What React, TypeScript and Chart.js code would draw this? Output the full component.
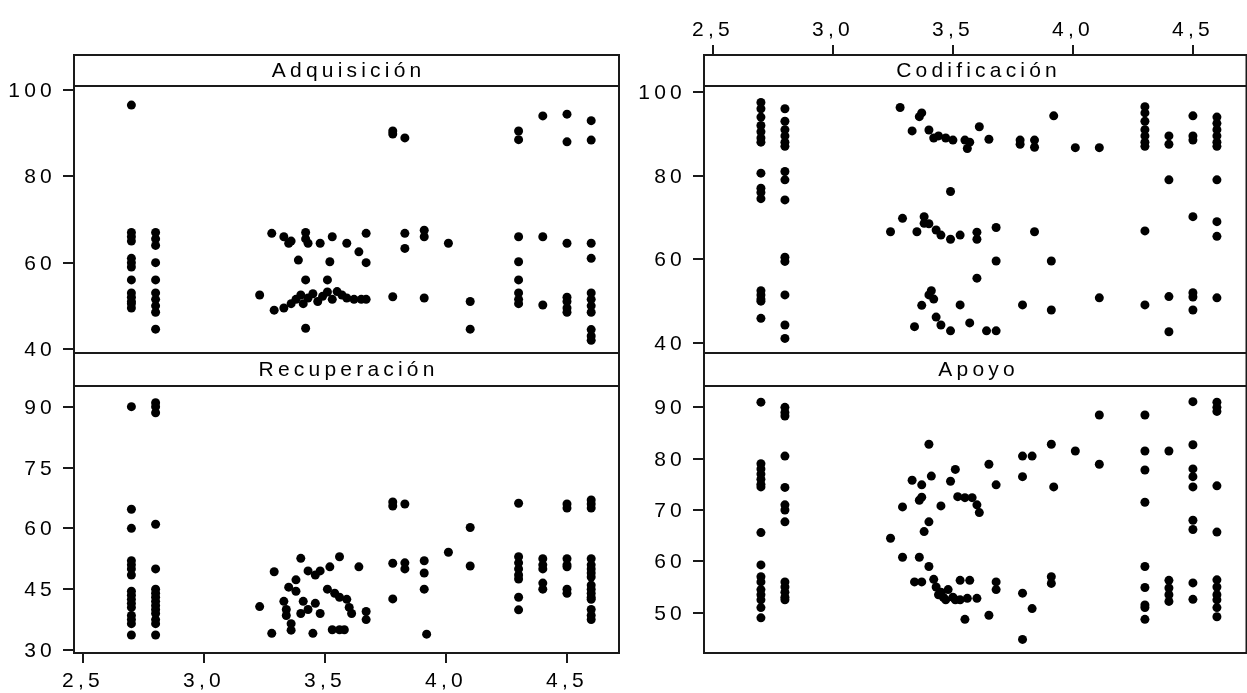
import React, { useEffect, useRef } from "react";
import { Chart, registerables } from "chart.js";

Chart.register(...registerables);

const W = 1247;
const H = 693;
const FONT_FAMILY = '"Liberation Sans", Arial, Helvetica, sans-serif';
const FONT_SIZE = 21;
const LETTER_SPACING = 4.2;
const INK = "#000000";
const LINE = "#1a1a1a";

// x axis (shared)
const xTickValues = [2.5, 3.0, 3.5, 4.0, 4.5];
const xTickLabels = ["2,5", "3,0", "3,5", "4,0", "4,5"];

// y tick values per panel
const adquisicionTicks = [40, 60, 80, 100];
const codificacionTicks = [40, 60, 80, 100];
const recuperacionTicks = [30, 45, 60, 75, 90];
const apoyoTicks = [50, 60, 70, 80, 90];

// data: [x, y]
const adquisicion: [number, number][] = [
  [2.7, 96.5], [2.7, 67], [2.7, 66], [2.7, 65], [2.7, 61], [2.7, 60], [2.7, 59], [2.7, 56], [2.7, 53], [2.7, 52], [2.7, 51], [2.7, 50.5], [2.7, 49.5],
  [2.8, 67], [2.8, 65.5], [2.8, 64], [2.8, 60], [2.8, 56], [2.8, 53], [2.8, 51.5], [2.8, 50], [2.8, 48.5], [2.8, 44.6],
  [3.28, 66.8], [3.33, 66], [3.36, 65], [3.35, 64.5], [3.42, 67], [3.42, 65.5], [3.43, 64.5], [3.48, 64.5], [3.53, 66], [3.59, 64.5],
  [3.67, 66.8], [3.64, 62.5], [3.67, 60], [3.39, 60.6], [3.52, 60.2], [3.42, 56], [3.51, 56],
  [3.23, 52.5], [3.29, 49], [3.33, 49.5], [3.36, 50.5], [3.38, 51.5], [3.40, 52.5], [3.41, 50.5], [3.43, 51.8], [3.45, 52.8], [3.47, 51],
  [3.49, 52.2], [3.51, 53.2], [3.53, 51.5], [3.55, 53.3], [3.57, 52.5], [3.59, 51.8], [3.62, 51.5], [3.65, 51.5], [3.67, 51.5], [3.42, 44.8],
  [3.78, 90.5], [3.78, 89.8], [3.83, 88.9], [3.83, 66.8], [3.83, 63.3], [3.91, 67.5], [3.91, 66], [4.01, 64.5], [3.78, 52.1], [3.91, 51.8],
  [4.1, 51], [4.1, 44.6],
  [4.3, 90.5], [4.3, 88.5], [4.3, 66], [4.3, 60.2], [4.3, 56], [4.3, 53], [4.3, 51.5], [4.3, 50.5],
  [4.4, 94], [4.4, 66], [4.4, 50.2],
  [4.5, 94.4], [4.5, 88], [4.5, 64.5], [4.5, 52], [4.5, 51], [4.5, 49.5], [4.5, 48.5],
  [4.6, 92.9], [4.6, 88.4], [4.6, 64.5], [4.6, 61], [4.6, 53], [4.6, 51.5], [4.6, 50], [4.6, 48.5], [4.6, 44.5], [4.6, 43], [4.6, 42],
];

const codificacion: [number, number][] = [
  [2.7, 97.5], [2.7, 96], [2.7, 94], [2.7, 92], [2.7, 90.5], [2.7, 89], [2.7, 88], [2.7, 80.6], [2.7, 77], [2.7, 76], [2.7, 74.5],
  [2.7, 52.5], [2.7, 51.5], [2.7, 50.5], [2.7, 50], [2.7, 45.9],
  [2.8, 96], [2.8, 93], [2.8, 91], [2.8, 89.5], [2.8, 88], [2.8, 87], [2.8, 81], [2.8, 79], [2.8, 74.2], [2.8, 60.5], [2.8, 59.5],
  [2.8, 51.5], [2.8, 44.3], [2.8, 41.1],
  [3.28, 96.3], [3.36, 94.1], [3.37, 95], [3.33, 90.7], [3.40, 90.9], [3.42, 89], [3.44, 89.5], [3.47, 89], [3.50, 88.5], [3.55, 88.5],
  [3.56, 86.5], [3.57, 88], [3.61, 91.7], [3.65, 88.7], [3.78, 88.5], [3.78, 87.5], [3.84, 88.5], [3.84, 86.8], [3.92, 94.3],
  [4.01, 86.7], [4.11, 86.7],
  [3.24, 66.6], [3.29, 69.8], [3.35, 66.6], [3.38, 70.2], [3.38, 68.6], [3.40, 68.5], [3.43, 67], [3.45, 65.8], [3.49, 64.8], [3.53, 65.8],
  [3.60, 66.5], [3.60, 64.8], [3.68, 67.6], [3.49, 76.2], [3.84, 66.6], [3.68, 59.6], [3.91, 59.6], [3.60, 55.5],
  [3.34, 43.9], [3.37, 49], [3.40, 51.5], [3.41, 52.5], [3.42, 50.5], [3.43, 46.2], [3.45, 44.3], [3.49, 42.9], [3.53, 49.1], [3.57, 44.8],
  [3.64, 42.9], [3.68, 42.9], [3.79, 49.1], [3.91, 47.9], [4.11, 50.8],
  [4.3, 96.5], [4.3, 95], [4.3, 93], [4.3, 91], [4.3, 89.5], [4.3, 88], [4.3, 87], [4.3, 66.8], [4.3, 49.1],
  [4.4, 89.5], [4.4, 87.5], [4.4, 79], [4.4, 51.1], [4.4, 42.7],
  [4.5, 94.3], [4.5, 89.5], [4.5, 88.5], [4.5, 70.2], [4.5, 52], [4.5, 51], [4.5, 47.9],
  [4.6, 94], [4.6, 92.5], [4.6, 91], [4.6, 89.5], [4.6, 88], [4.6, 87], [4.6, 79], [4.6, 69], [4.6, 65.5], [4.6, 50.8],
];

const recuperacion: [number, number][] = [
  [2.7, 90], [2.7, 64.7], [2.7, 60], [2.7, 52], [2.7, 51], [2.7, 50], [2.7, 48.5], [2.7, 44.5], [2.7, 43.5], [2.7, 42.5], [2.7, 41.5],
  [2.7, 40.5], [2.7, 38.5], [2.7, 37.5], [2.7, 36.5], [2.7, 33.7],
  [2.8, 91], [2.8, 90], [2.8, 88.5], [2.8, 61], [2.8, 50], [2.8, 45], [2.8, 44], [2.8, 43], [2.8, 42], [2.8, 41], [2.8, 40], [2.8, 39],
  [2.8, 37.5], [2.8, 36.5], [2.8, 33.7],
  [3.23, 40.7], [3.29, 49.3], [3.28, 34.1], [3.36, 34.9], [3.45, 34.1], [3.53, 35], [3.56, 35], [3.58, 35], [3.40, 52.6], [3.43, 49.5],
  [3.46, 48.5], [3.48, 49.5], [3.52, 50.5], [3.56, 53], [3.64, 50.5], [3.35, 45.5], [3.38, 44.5], [3.33, 42], [3.34, 40], [3.34, 38.5],
  [3.41, 42], [3.43, 40], [3.40, 39], [3.48, 39], [3.51, 45], [3.54, 44], [3.56, 43], [3.46, 41.5], [3.59, 42.5], [3.60, 40.5],
  [3.61, 39], [3.67, 39.5], [3.67, 37.5], [3.38, 47.3], [3.36, 36.5],
  [3.78, 66.5], [3.78, 65.5], [3.83, 66], [3.78, 51.4], [3.83, 51.5], [3.83, 50], [3.78, 42.6], [3.91, 52], [3.91, 49], [3.91, 45],
  [3.92, 33.9], [4.01, 54.1], [4.1, 60.2], [4.1, 50.7],
  [4.3, 66.2], [4.3, 53], [4.3, 51.5], [4.3, 50], [4.3, 48.5], [4.3, 47.5], [4.3, 43], [4.3, 39.9],
  [4.4, 52.5], [4.4, 51], [4.4, 50], [4.4, 46.5], [4.4, 45],
  [4.5, 66], [4.5, 65], [4.5, 52.5], [4.5, 51], [4.5, 50.5], [4.5, 45], [4.5, 44],
  [4.6, 67], [4.6, 66], [4.6, 65], [4.6, 52.5], [4.6, 51], [4.6, 50], [4.6, 49], [4.6, 48], [4.6, 46], [4.6, 45], [4.6, 44], [4.6, 43],
  [4.6, 42.5], [4.6, 40], [4.6, 38.5], [4.6, 37.5],
];

const apoyo: [number, number][] = [
  [2.7, 91], [2.7, 79], [2.7, 78], [2.7, 77], [2.7, 76], [2.7, 75], [2.7, 74.5], [2.7, 65.6], [2.7, 59.3], [2.7, 57], [2.7, 56],
  [2.7, 54.5], [2.7, 53.5], [2.7, 52.5], [2.7, 51], [2.7, 49],
  [2.8, 90], [2.8, 89], [2.8, 88.3], [2.8, 80.5], [2.8, 74.4], [2.8, 71], [2.8, 70], [2.8, 67.7], [2.8, 56], [2.8, 55], [2.8, 54],
  [2.8, 53], [2.8, 52.5],
  [3.24, 64.5], [3.29, 70.6], [3.29, 60.8], [3.36, 60.8], [3.40, 82.8], [3.33, 75.8], [3.37, 74.9], [3.36, 71.9], [3.37, 72.5],
  [3.41, 76.6], [3.45, 70.8], [3.40, 67.7], [3.38, 65.8], [3.51, 77.9], [3.49, 75.6], [3.52, 72.6], [3.55, 72.4], [3.58, 72.4],
  [3.60, 71], [3.61, 69.5], [3.65, 78.9], [3.68, 74.9], [3.79, 80.5], [3.83, 80.5], [3.79, 76.5], [3.91, 82.8], [3.92, 74.5],
  [4.01, 81.5], [4.11, 88.5], [4.11, 78.9],
  [3.34, 56], [3.37, 56], [3.40, 59], [3.42, 56.5], [3.43, 55], [3.44, 53.5], [3.45, 54], [3.46, 53], [3.47, 52.5], [3.48, 54.5],
  [3.50, 53], [3.51, 52.5], [3.53, 52.5], [3.53, 56.3], [3.57, 56.3], [3.56, 52.8], [3.60, 52.8], [3.55, 48.7], [3.65, 49.5],
  [3.68, 56], [3.68, 54.5], [3.79, 53.8], [3.83, 50.8], [3.79, 44.8], [3.91, 57], [3.91, 55.7],
  [4.3, 88.5], [4.3, 81.5], [4.3, 77.8], [4.3, 71.5], [4.3, 59], [4.3, 54.9], [4.3, 51.5], [4.3, 51], [4.3, 48.7],
  [4.4, 81.5], [4.4, 56.3], [4.4, 54.8], [4.4, 53.5], [4.4, 52.2],
  [4.5, 91.1], [4.5, 82.7], [4.5, 78], [4.5, 76.5], [4.5, 74.5], [4.5, 68], [4.5, 66.2], [4.5, 55.8], [4.5, 52.6],
  [4.6, 91], [4.6, 90], [4.6, 89.2], [4.6, 74.7], [4.6, 65.7], [4.6, 56.4], [4.6, 55], [4.6, 53.5], [4.6, 52.5], [4.6, 51], [4.6, 49.2],
];

type Panel = {
  title: string;
  data: [number, number][];
  yMin: number;
  yMax: number;
  yTicks: number[];
  col: 0 | 1;
  row: 0 | 1;
  xAxis: "none" | "top" | "bottom";
};

const panels: Panel[] = [
  { title: "Adquisición", data: adquisicion, yMin: 39.07, yMax: 100.93, yTicks: adquisicionTicks, col: 0, row: 0, xAxis: "none" },
  { title: "Codificación", data: codificacion, yMin: 37.61, yMax: 101.43, yTicks: codificacionTicks, col: 1, row: 0, xAxis: "top" },
  { title: "Recuperación", data: recuperacion, yMin: 29.26, yMax: 95.1, yTicks: recuperacionTicks, col: 0, row: 1, xAxis: "bottom" },
  { title: "Apoyo", data: apoyo, yMin: 42.15, yMax: 94.15, yTicks: apoyoTicks, col: 1, row: 1, xAxis: "none" },
];

// layout (pixels)
const COL_LEFT = [74, 704];
const COL_RIGHT = [619, 1247];
const PANEL_W = 545;
const ROW_TOP = [86, 386];
const ROW_BOTTOM = [353, 653];
const STRIP_TOP = [55, 353];
const X_MIN = 2.4628;
const X_MAX = [4.7149, 4.7066];
const TICK_LEN = 10;

function makePlugin(p: Panel) {
  return {
    id: "lattice_" + p.col + "_" + p.row,
    afterDatasetsDraw(chart: any) {
      const ctx: CanvasRenderingContext2D = chart.ctx;
      const a = chart.chartArea;
      const xs = chart.scales.x;
      const ys = chart.scales.y;
      const openRight = p.col === 1;
      const right = openRight ? a.right + 4 : a.right;
      const stripTop = STRIP_TOP[p.row];
      ctx.save();
      ctx.strokeStyle = LINE;
      ctx.lineWidth = 2;
      ctx.beginPath();
      ctx.rect(a.left, stripTop, right - a.left, a.bottom - stripTop);
      ctx.moveTo(a.left, a.top);
      ctx.lineTo(right, a.top);
      ctx.stroke();

      ctx.font = `${FONT_SIZE}px ${FONT_FAMILY}`;
      (ctx as any).letterSpacing = LETTER_SPACING + "px";
      ctx.fillStyle = INK;

      // y ticks
      ctx.textAlign = "right";
      ctx.textBaseline = "middle";
      for (const v of p.yTicks) {
        const y = Math.round(ys.getPixelForValue(v));
        ctx.beginPath();
        ctx.moveTo(a.left - 11, y);
        ctx.lineTo(a.left, y);
        ctx.stroke();
        ctx.fillText(String(v), a.left - 18, y + 1);
      }

      // x ticks
      if (p.xAxis !== "none") {
        ctx.textAlign = "center";
        xTickValues.forEach((v, i) => {
          const x = Math.round(xs.getPixelForValue(v));
          ctx.beginPath();
          if (p.xAxis === "bottom") {
            ctx.moveTo(x, a.bottom);
            ctx.lineTo(x, a.bottom + TICK_LEN);
          } else {
            ctx.moveTo(x, stripTop);
            ctx.lineTo(x, stripTop - TICK_LEN);
          }
          ctx.stroke();
          const ty = p.xAxis === "bottom" ? a.bottom + 28 : stripTop - 25;
          ctx.fillText(xTickLabels[i], x, ty);
        });
      }

      // strip title
      ctx.textAlign = "center";
      ctx.textBaseline = "middle";
      const cx = a.left + PANEL_W / 2 + LETTER_SPACING / 2;
      const cy = (stripTop + a.top) / 2 + 1;
      ctx.fillText(p.title, cx, cy);
      ctx.restore();
    },
  };
}

function PanelChart({ p }: { p: Panel }) {
  const ref = useRef<HTMLCanvasElement | null>(null);
  useEffect(() => {
    if (!ref.current) return;
    const left = COL_LEFT[p.col];
    const right = COL_RIGHT[p.col];
    const top = ROW_TOP[p.row];
    const bottom = ROW_BOTTOM[p.row];
    const chart = new Chart(ref.current, {
      type: "scatter",
      data: {
        datasets: [
          {
            data: p.data.map(([x, y]) => ({ x, y })),
            backgroundColor: "#000000",
            borderColor: "#000000",
            borderWidth: 0,
            pointRadius: 4.5,
            pointHoverRadius: 4.5,
            pointStyle: "circle",
          },
        ],
      },
      options: {
        animation: false,
        responsive: false,
        maintainAspectRatio: false,
        devicePixelRatio: 1,
        events: [],
        layout: { padding: { left, top, right: W - right, bottom: H - bottom } },
        scales: {
          x: { type: "linear", min: X_MIN, max: X_MAX[p.col], display: false },
          y: { type: "linear", min: p.yMin, max: p.yMax, display: false },
        },
        plugins: { legend: { display: false }, tooltip: { enabled: false } },
      },
      plugins: [makePlugin(p)],
    } as any);
    return () => chart.destroy();
  }, [p]);
  return (
    <canvas
      ref={ref}
      width={W}
      height={H}
      style={{ position: "absolute", left: 0, top: 0, width: W, height: H }}
    />
  );
}

export default function App() {
  return (
    <div style={{ position: "fixed", left: 0, top: 0, width: W, height: H, background: "#ffffff", overflow: "hidden" }}>
      {panels.map((p) => (
        <PanelChart key={p.title} p={p} />
      ))}
    </div>
  );
}
